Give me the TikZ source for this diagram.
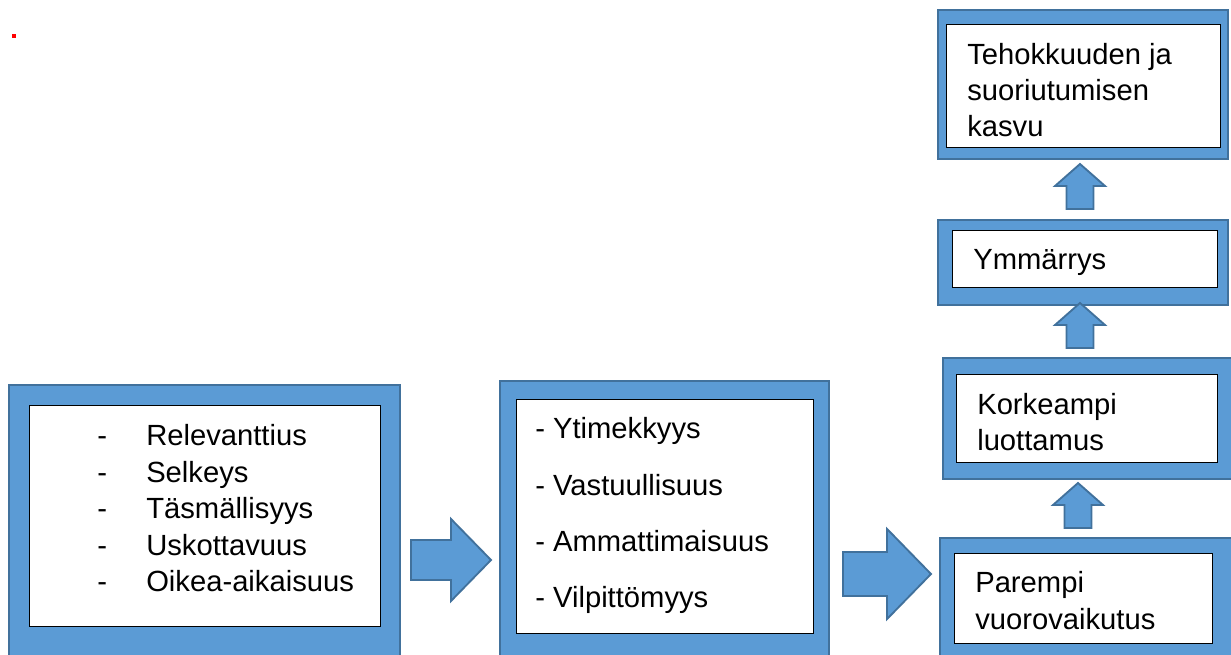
\documentclass[tikz,border=0pt]{standalone}
\usepackage{fontspec}
\setmainfont{Liberation Sans}
\usepackage{tikz}
\usetikzlibrary{positioning}
\usetikzlibrary{fit}
\definecolor{boxblue}{HTML}{5B9BD5}
\definecolor{edgeblue}{HTML}{41719C}
\tikzset{
    outerbox/.style={draw=edgeblue, fill=boxblue, line width=1.1pt, inner sep=0pt},
    innerbox/.style={draw=black, fill=white, line width=0.75pt, inner sep=0pt},
    boxtext/.style={anchor=base west, inner sep=0pt, align=left,
        font=\fontsize{21.9}{27.3}\selectfont},
    blockarrow/.style={draw=edgeblue, fill=boxblue, line width=1.4pt, line join=miter},
    blockright/.pic={
        \path[blockarrow] (0,-20) -- (40,-20) -- (40,-41) -- (80,0) -- (40,41) -- (40,20) -- (0,20) -- cycle;
    },
    blockup/.pic={
        \path[blockarrow] (-13.5,0) -- (-13.5,-23) -- (-25,-23) -- (0,-45) -- (25,-23) -- (13.5,-23) -- (13.5,0) -- cycle;
    }
}
\begin{document}
\begin{tikzpicture}[x=0.75pt, y=-0.75pt]
		\useasboundingbox (0,0) rectangle (1231,655);
		\fill[red] (12,34) rectangle (16,38);
		
		% frames
		\node[outerbox, fit={(9,385) (400,662)}] (qualityframe) {};
		\node[innerbox, fit={(29,406) (380,626)}] (quality) {};
		\node[outerbox, fit={(500,381) (829,662)}] (styleframe) {};
		\node[innerbox, fit={(516,400) (813,633)}] (style) {};
		\node[outerbox, fit={(940,538) (1235,662)}] (interactionframe) {};
		\node[innerbox, fit={(954,553) (1212,643)}] (interaction) {};
		\node[outerbox, fit={(943,358) (1235,479)}] (trustframe) {};
		\node[innerbox, fit={(956,375) (1217,463)}] (trust) {};
		\node[outerbox, fit={(938,220) (1228,305)}] (understandingframe) {};
		\node[innerbox, fit={(952,231) (1217,288)}] (understanding) {};
		\node[outerbox, fit={(938,10) (1228,159)}] (growthframe) {};
		\node[innerbox, fit={(946,25) (1220,148)}] (growth) {};
		
		% texts (base = last line)
		\foreach \word [count=\i] in {Relevanttius, Selkeys, Täsmällisyys, Uskottavuus, Oikea-aikaisuus}
			\node[boxtext] (quality\i) at (97,{446+36.4*(\i-1)}) {\makebox[36.75pt][l]{-}\word};
		\foreach \word [count=\i] in {Ytimekkyys, Vastuullisuus, Ammattimaisuus, Vilpittömyys}
			\node[boxtext] (style\i) at (535,{439+56*(\i-1)}) {- \word};
		\node[boxtext] (interactiontext) at (975,629) {Parempi\\vuorovaikutus};
		\node[boxtext] (trusttext) at (977,451) {Korkeampi\\luottamus};
		\node[boxtext] (understandingtext) at (973,270) {Ymmärrys};
		\node[boxtext] (growthtext) at (967,137) {Tehokkuuden ja\\suoriutumisen\\kasvu};
		
		% arrows
		\pic (toStyle) at (411,560) {blockright};
		\pic[scale=1.1] (toInteraction) at (843,574) {blockright};
		\pic (toTrust) at (1078,528) {blockup};
		\pic (toUnderstanding) at (1080,348) {blockup};
		\pic (toGrowth) at (1080,209) {blockup};
\end{tikzpicture}
\end{document}
